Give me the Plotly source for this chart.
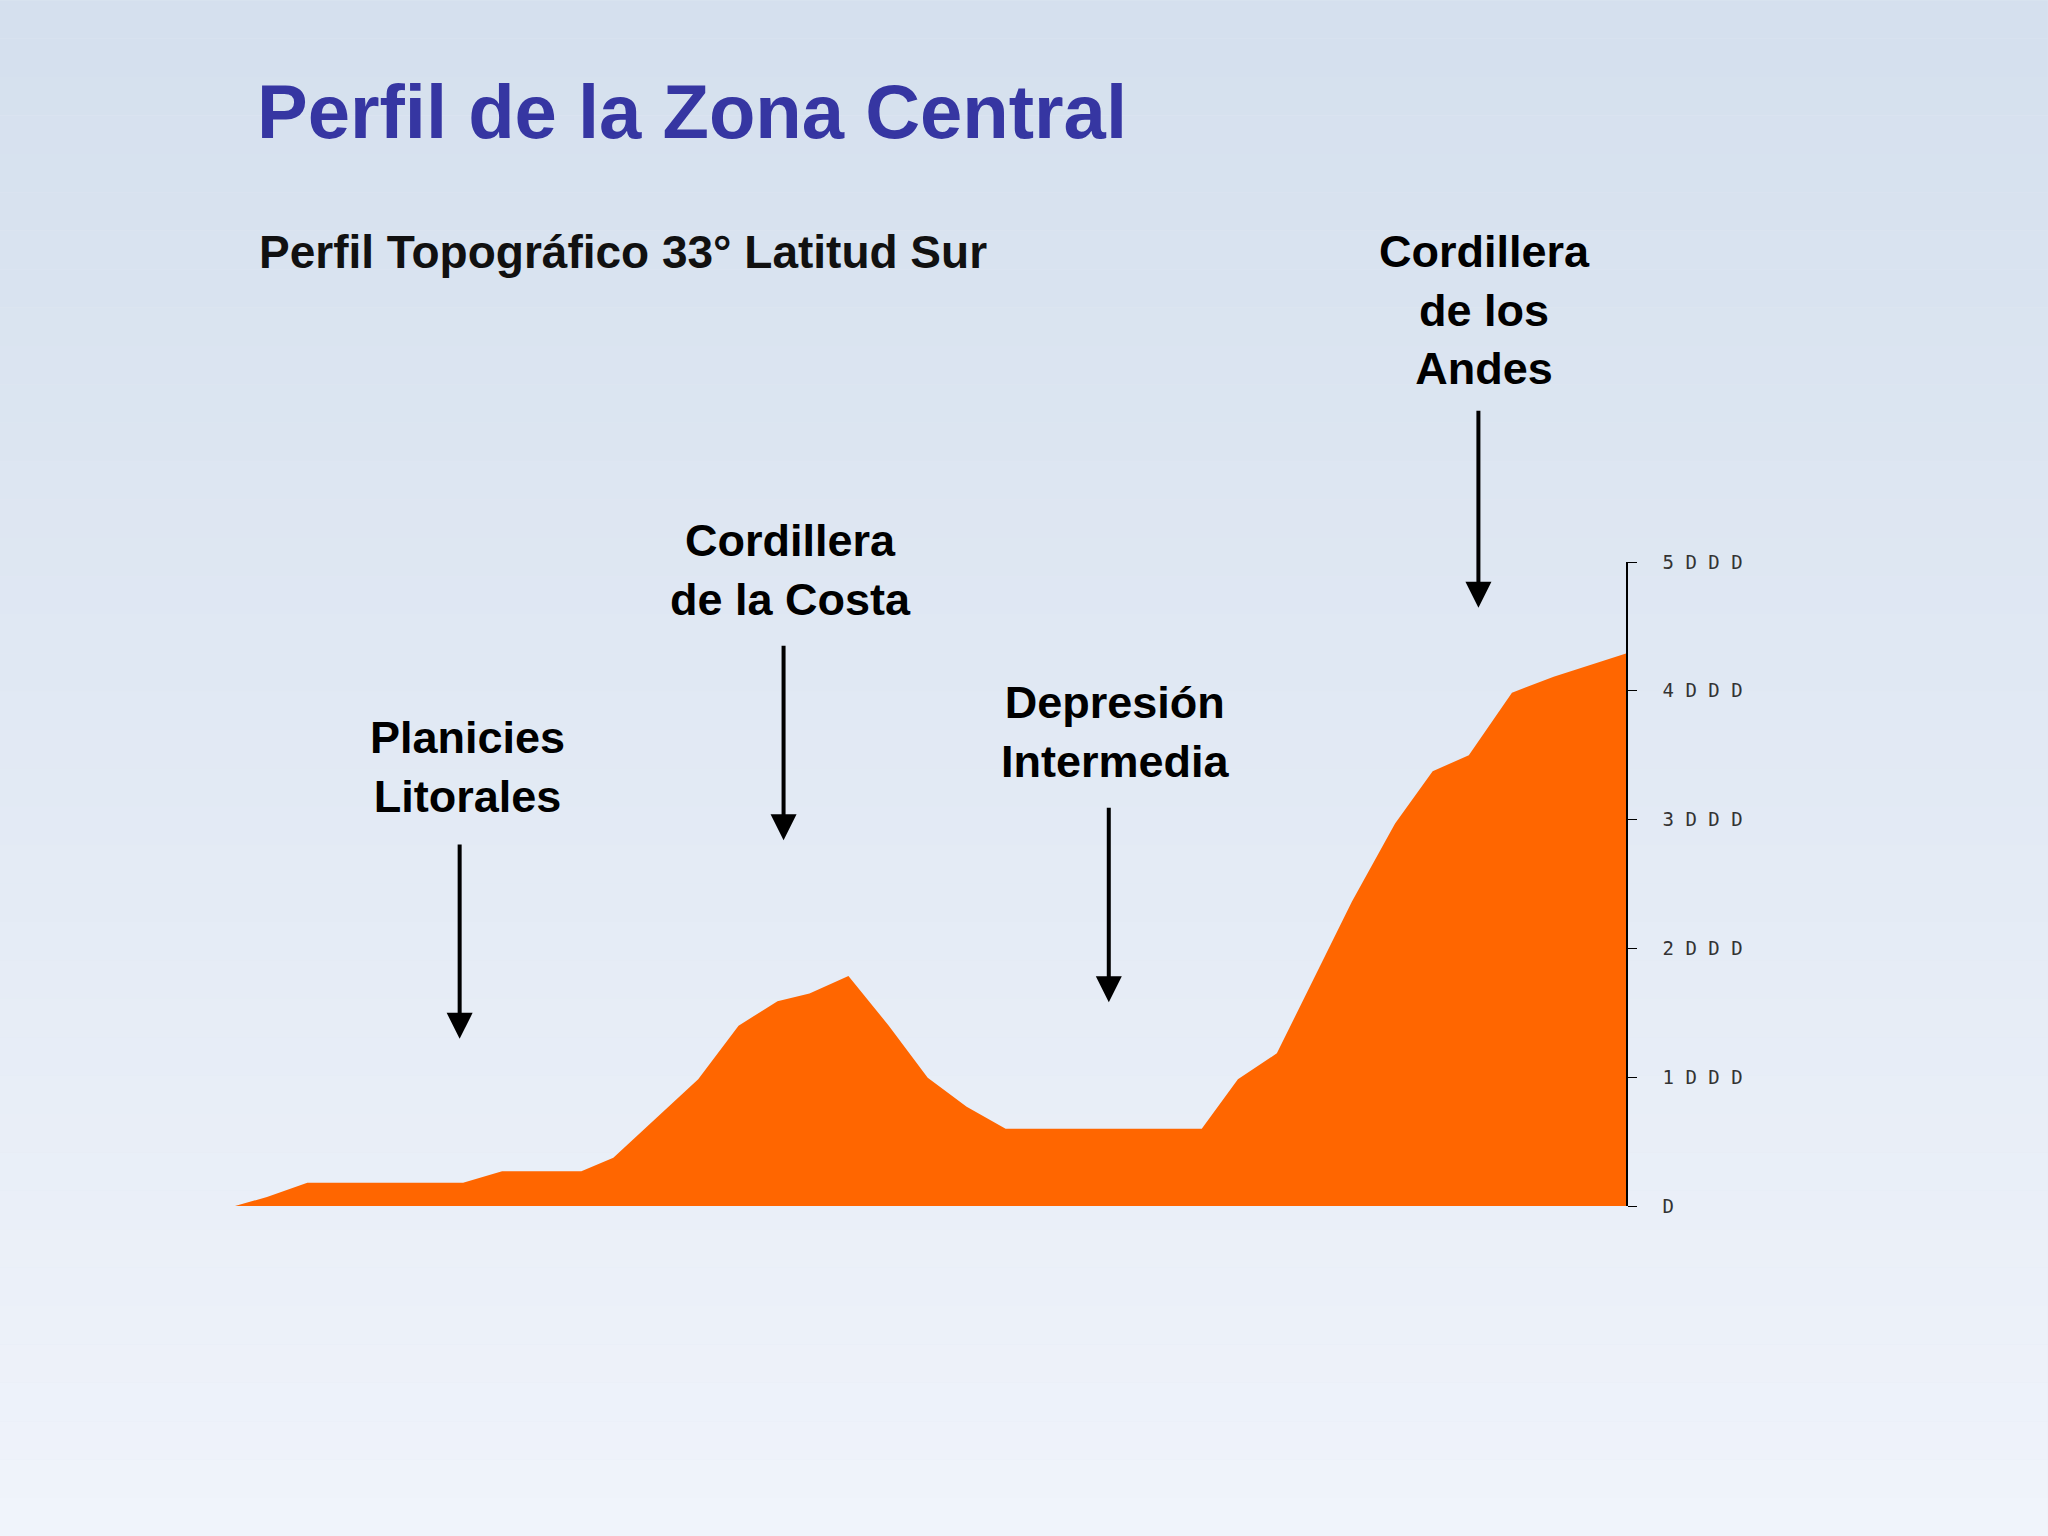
import plotly.graph_objects as go

# Profile data: distance (relative units 0-100) and elevation (m)
distancia = [0, 2.3, 5.2, 16.4, 19.2, 24.9, 27.2, 33.3, 36.2, 39.0, 41.3, 44.1, 47.0, 49.8,
             52.6, 55.4, 69.5, 72.1, 74.9, 80.3, 83.4, 86.1, 88.7, 91.8, 94.8, 100]
elevacion = [0, 70, 180, 180, 270, 270, 375, 985, 1400, 1590, 1650, 1785, 1400, 995,
             770, 600, 600, 985, 1185, 2365, 2970, 3375, 3500, 3985, 4110, 4290]
tick_vals = [0, 1000, 2000, 3000, 4000, 5000]
tick_text = ["D", "1 D D D", "2 D D D", "3 D D D", "4 D D D", "5 D D D"]

W, H = 2048, 1536
S = W / 1568
L, R = 180 * S, 1245 * S
B, T = 923 * S, 430 * S

def px(X):
    return (X * S - L) / (R - L)

def py(Y):
    return (B - Y * S) / (B - T)

fig = go.Figure()
fig.add_trace(go.Scatter(x=distancia, y=elevacion, mode="lines", fill="tozeroy",
                         line=dict(color="#ff6600", width=0), fillcolor="#ff6600",
                         hoverinfo="skip"))

shapes = []
n = 40
top = (213, 224, 238)
bot = (240, 244, 251)
for i in range(n):
    t = i / (n - 1)
    c = tuple(int(top[k] + (bot[k] - top[k]) * t) for k in range(3))
    shapes.append(dict(type="rect", xref="paper", yref="paper", layer="below",
                       x0=px(0), x1=px(1568), y0=py(1176 * (i + 1) / n), y1=py(1176 * i / n),
                       fillcolor="rgb(%d,%d,%d)" % c, line=dict(width=0)))

lab_font = dict(family="Liberation Sans", size=45, color="black")
anns = [
    dict(text="<b>Perfil de la Zona Central</b>", x=px(195), y=py(85), xanchor="left",
         font=dict(family="Liberation Sans", size=76, color="#3636a2")),
    dict(text="<b>Perfil Topográfico 33° Latitud Sur</b>", x=px(197), y=py(193), xanchor="left",
         font=dict(family="Liberation Sans", size=46, color="#111")),
    dict(text="<b>Planicies<br>Litorales</b>", x=px(358), y=py(587), font=lab_font),
    dict(text="<b>Cordillera<br>de la Costa</b>", x=px(605), y=py(436), font=lab_font),
    dict(text="<b>Depresión<br>Intermedia</b>", x=px(854), y=py(560), font=lab_font),
    dict(text="<b>Cordillera<br>de los<br>Andes</b>", x=px(1137), y=py(237), font=lab_font),
]
for a in anns:
    a.update(xref="paper", yref="paper", showarrow=False, yanchor="middle")
    a.setdefault("xanchor", "center")
arrows = [(352, 645, 795), (600, 493, 643), (849, 617, 767), (1132, 313, 465)]
for X, y0, y1 in arrows:
    anns.append(dict(xref="paper", yref="paper", x=px(X), y=py(y1), text="", showarrow=True,
                     ax=0, ay=-(y1 - y0) * S, arrowhead=2, arrowsize=1.3, arrowwidth=4,
                     arrowcolor="black"))

fig.update_layout(
    width=W, height=H, margin=dict(l=L, r=W - R, t=T, b=H - B),
    paper_bgcolor="#e3e9f3", plot_bgcolor="rgba(0,0,0,0)", showlegend=False,
    shapes=shapes, annotations=anns,
    xaxis=dict(range=[0, 100], visible=False, showgrid=False),
    yaxis=dict(range=[0, 5000], side="right", showgrid=False, zeroline=False,
               showline=True, linecolor="black", linewidth=1.5, ticks="outside",
               ticklen=9, tickcolor="black", tickvals=tick_vals, ticktext=tick_text,
               ticklabelstandoff=22,
               tickfont=dict(family="DejaVu Sans Mono", size=19, color="#333")),
)
fig.write_html("out.html", config={"displayModeBar": False},
               post_script="document.body.style.margin='0';")
